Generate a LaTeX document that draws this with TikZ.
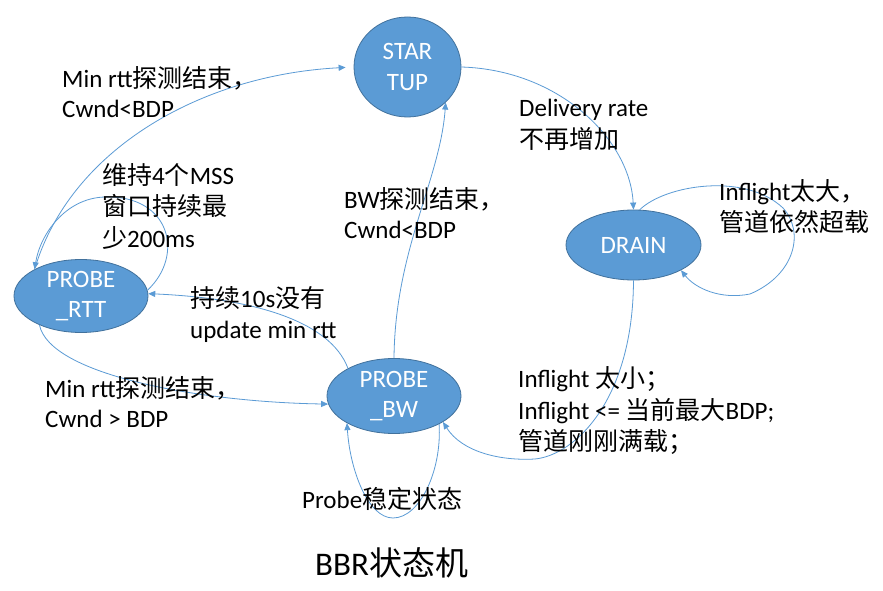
\documentclass[tikz,border=0pt]{standalone}
\usepackage{fontspec}
\setmainfont{Carlito}
\newfontfamily\zhfont{Noto Sans CJK SC}
\usetikzlibrary{shapes.geometric,arrows.meta}
\newcommand\zh[1]{{\zhfont #1}}
\definecolor{nodefill}{HTML}{5B9BD5}
\definecolor{nodeline}{HTML}{41719C}
\definecolor{conncol}{HTML}{5B9BD5}
\begin{document}
\begin{tikzpicture}[x=1pt,y=-1pt,
  stnode/.style={ellipse,draw=nodeline,line width=0.8pt,fill=nodefill,text=white,
    inner sep=0pt,align=center,font=\fontsize{25}{30.5}\selectfont},
  conn/.style={draw=conncol,line width=0.8pt,-{Triangle[length=7pt,width=6pt]}},
  plain/.style={draw=conncol,line width=0.8pt},
  lbl/.style={anchor=base west,inner sep=0pt,text=black,font=\fontsize{25}{31}\selectfont},
  ttl/.style={anchor=base west,inner sep=0pt,text=black,font=\fontsize{33}{40}\selectfont}]
\useasboundingbox (0,0) rectangle (883,591);
\fill[white] (0,0) rectangle (883,591);

% states
\node[stnode,minimum width=107pt,minimum height=100pt] (startup) at (407.5,67) {STAR\\TUP};
\node[stnode,minimum width=135pt,minimum height=70pt] (drain) at (633.5,245) {DRAIN};
\node[stnode,minimum width=134pt,minimum height=73pt] (rtt) at (81,296) {PROBE\\\_RTT};
\node[stnode,minimum width=134pt,minimum height=75pt] (bw) at (394,396) {PROBE\\\_BW};

% connectors
\draw[conn,shorten >=8pt] (rtt.150) .. controls (70,150) and (200,75) .. (startup.180);
\draw[conn] (rtt.5) .. controls (185,255) and (170,195) .. (105,197)
  .. controls (65,198) and (40,235) .. (rtt.150);
\draw[conn] (bw.149) .. controls (330,320) and (250,298) .. (rtt.2);
\draw[conn] (rtt.215) .. controls (50,375) and (200,402) .. (bw.187);
\draw[conn] (bw.90) .. controls (395,250) and (440,180) .. (startup.-43);
\draw[conn] (startup.0) .. controls (560,70) and (630,140) .. (drain.90);
\draw[conn] (drain.80) .. controls (665,185) and (745,172) .. (783,208)
  .. controls (805,232) and (795,275) .. (750,294)
  .. controls (720,300) and (695,288) .. (drain.-28);
\draw[conn] (drain.270) .. controls (633,400) and (575,455) .. (535,459)
  .. controls (500,461) and (462,452) .. (bw.-28);
\draw[conn] (bw.-32) .. controls (442,470) and (420,518) .. (393,518)
  .. controls (368,518) and (350,470) .. (bw.210);

% labels
\node[lbl] (l1a) at (62,88) {Min rtt\zh{探测结束，}};
\node[lbl] (l1b) at (62,118) {Cwnd<BDP};
\node[lbl] (l2a) at (102,184) {\zh{维持}4\zh{个}MSS};
\node[lbl] (l2b) at (102,215.5) {\zh{窗口持续最}};
\node[lbl] (l2c) at (102,247) {\zh{少}200ms};
\node[lbl] (l3a) at (344,208) {BW\zh{探测结束，}};
\node[lbl] (l3b) at (344,238) {Cwnd<BDP};
\node[lbl] (l4a) at (190,307) {\zh{持续}10s\zh{没有}};
\node[lbl] (l4b) at (190,338) {update min rtt};
\node[lbl] (l5a) at (45,397) {Min rtt\zh{探测结束，}};
\node[lbl] (l5b) at (45,427) {Cwnd > BDP};
\node[lbl] (l6) at (302,508) {Probe\zh{稳定状态}};
\node[lbl] (l7a) at (519,117) {Delivery rate};
\node[lbl] (l7b) at (519,148) {\zh{不再增加}};
\node[lbl] (l8a) at (719,200) {Inflight\zh{太大，}};
\node[lbl] (l8b) at (719,231) {\zh{管道依然超载}};
\node[lbl] (l9a) at (518,387) {Inflight \zh{太小；}};
\node[lbl] (l9b) at (518,419) {Inflight <= \zh{当前最大}BDP;};
\node[lbl] (l9c) at (518,450) {\zh{管道刚刚满载；}};
\node[ttl] (title) at (315,575) {BBR\zh{状态机}};
\end{tikzpicture}
\end{document}
